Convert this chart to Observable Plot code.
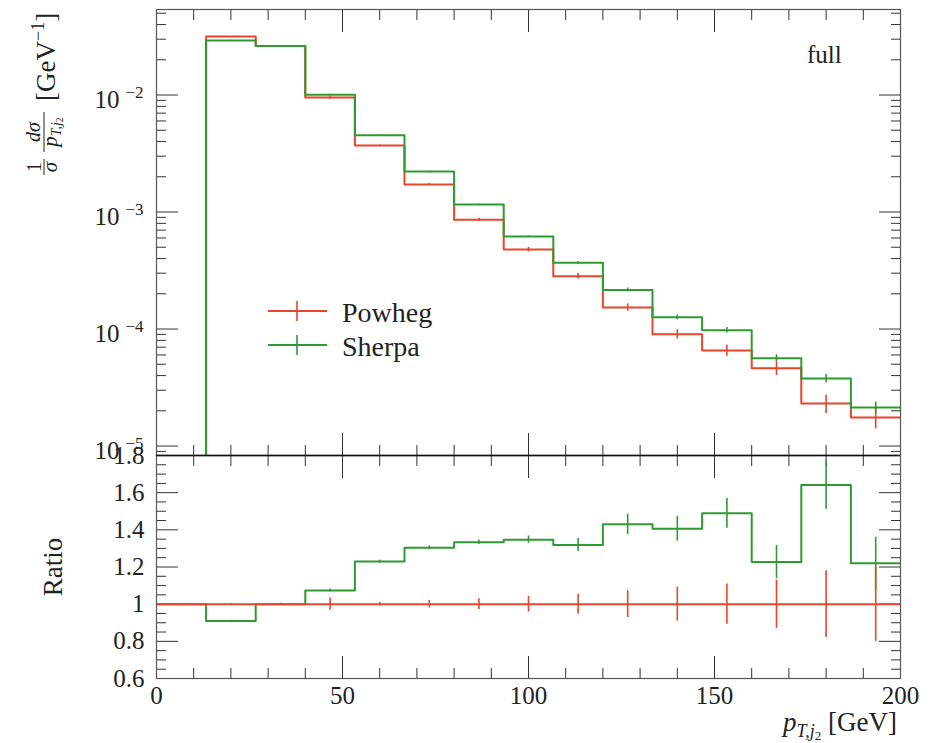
<!DOCTYPE html>
<html>
<head>
<meta charset="utf-8">
<script src="https://cdn.jsdelivr.net/npm/d3@7"></script>
<script src="https://cdn.jsdelivr.net/npm/@observablehq/plot@0.6"></script>
<style>
  body { margin: 0; background: #fff; }
  #wrap { position: relative; width: 930px; height: 743px; overflow: hidden; background: #fff; }
  #wrap svg, #wrap svg text { font-family: "Liberation Serif", "DejaVu Serif", serif !important; }
  #overlay { position: absolute; left: 0; top: 0; pointer-events: none; }
</style>
</head>
<body>
<div id="wrap"></div>
<script>
// ---------------- data ----------------
const binEdges = [0, 13.333, 26.667, 40, 53.333, 66.667, 80, 93.333, 106.667, 120, 133.333, 146.667, 160, 173.333, 186.667, 200];
const powheg = [0, 3.16e-2, 2.62e-2, 9.5e-3, 3.7e-3, 1.72e-3, 8.6e-4, 4.78e-4, 2.83e-4, 1.53e-4, 9.04e-5, 6.55e-5, 4.62e-5, 2.31e-5, 1.75e-5];
const sherpa = [0, 2.92e-2, 2.62e-2, 1.007e-2, 4.53e-3, 2.22e-3, 1.16e-3, 6.18e-4, 3.68e-4, 2.16e-4, 1.26e-4, 9.77e-5, 5.62e-5, 3.78e-5, 2.13e-5];
const ratioPowheg = [1, 1, 1, 1, 1, 1, 1, 1, 1, 1, 1, 1, 1, 1, 1];
const ratioSherpa = [1, 0.91, 1.0, 1.073, 1.229, 1.304, 1.333, 1.347, 1.319, 1.430, 1.406, 1.489, 1.227, 1.641, 1.220];
// error half-widths, in ratio units
const errPowheg = [0, 0.003, 0.004, 0.033, 0.01, 0.02, 0.029, 0.042, 0.054, 0.072, 0.091, 0.108, 0.13, 0.18, 0.2];
const errSherpa = [0, 0.004, 0.005, 0.008, 0.008, 0.01, 0.012, 0.02, 0.035, 0.055, 0.067, 0.08, 0.089, 0.13, 0.14];
const seriesNames = ["Powheg", "Sherpa"];
const xMajorTicks = [0, 50, 100, 150, 200];
const xMinorTicks = [10, 20, 30, 40, 60, 70, 80, 90, 110, 120, 130, 140, 160, 170, 180, 190];
const logMajorTicks = [1e-5, 1e-4, 1e-3, 1e-2];
const ratioMajorTicks = [0.6, 0.8, 1, 1.2, 1.4, 1.6, 1.8];

// ---------------- styling ----------------
const RED = "#e8452c";
const GREEN = "#2f9933";
const FRAME = "#555";
const FONT = "Liberation Serif, DejaVu Serif, serif";

// ---------------- helpers ----------------
function steps(vals, floor) {
  const pts = [];
  vals.forEach((v, i) => {
    const y = v > 0 ? v : floor;
    pts.push({x: binEdges[i], y}, {x: binEdges[i + 1], y});
  });
  return pts;
}
const mids = binEdges.slice(0, -1).map((e, i) => (e + binEdges[i + 1]) / 2);

function errRows(vals, rel) {
  return vals.map((v, i) => ({x: mids[i], y1: v - rel[i], y2: v + rel[i], e: rel[i]})).filter(d => d.e > 0);
}
function errRowsLog(vals, absErr, ratio) {
  return vals.map((v, i) => {
    const r = ratio[i] > 0 ? absErr[i] / ratio[i] : 0;
    return {x: mids[i], y1: v * (1 - r), y2: v * (1 + r), e: r};
  }).filter(d => d.e > 0 && d.y1 > 0);
}

function tickMarks(axis, values, size, anchors) {
  const f = axis === "x" ? Plot.axisX : Plot.axisY;
  return anchors.map(a => f({anchor: a, ticks: values, tickSize: -size, fill: "none", stroke: "#333", strokeWidth: 1, label: null}));
}

const sup = {"0": "\u2070", "1": "\u00B9", "2": "\u00B2", "3": "\u00B3", "4": "\u2074", "5": "\u2075", "6": "\u2076"};
const unsup = Object.fromEntries(Object.entries(sup).map(([k, v]) => [v, k]));
const logFmt = d => "10\u207B" + sup[String(-Math.round(Math.log10(d)))];

// log minor ticks
const yDomTop = [8.3e-6, 5.38e-2];
const logMinorTicks = [];
for (let e = -6; e <= -2; e++) for (let k = 2; k <= 9; k++) {
  const v = k * Math.pow(10, e);
  if (v > yDomTop[0] && v < yDomTop[1]) logMinorTicks.push(v);
}
const ratioMinorTicks = [];
for (let v = 0.65; v < 1.8; v += 0.05) {
  const r = Math.round(v * 100) / 100;
  if (Math.abs(r * 5 - Math.round(r * 5)) > 1e-6) ratioMinorTicks.push(r);
}

// ---------------- top panel ----------------
const topPlot = Plot.plot({
  width: 930, height: 456,
  marginTop: 9, marginBottom: 1, marginLeft: 156, marginRight: 30,
  style: {fontFamily: FONT, fontSize: "24px", color: "#222", background: "transparent", overflow: "visible", position: "absolute", left: "0px", top: "0px"},
  x: {domain: [0, 200], axis: null},
  y: {type: "log", domain: yDomTop, axis: null},
  marks: [
    ...tickMarks("x", xMajorTicks, 22, ["top", "bottom"]),
    ...tickMarks("x", xMinorTicks, 10, ["top", "bottom"]),
    ...tickMarks("y", logMajorTicks, 22, ["left", "right"]),
    ...tickMarks("y", logMinorTicks, 10, ["left", "right"]),
    Plot.line(steps(powheg, 1e-9), {x: "x", y: "y", stroke: RED, strokeWidth: 2, clip: true}),
    Plot.ruleX(errRowsLog(powheg, errPowheg, ratioPowheg), {x: "x", y1: "y1", y2: "y2", stroke: RED, strokeWidth: 1.6, clip: true}),
    Plot.line(steps(sherpa, 1e-9), {x: "x", y: "y", stroke: GREEN, strokeWidth: 2, clip: true}),
    Plot.ruleX(errRowsLog(sherpa, errSherpa, ratioSherpa), {x: "x", y1: "y1", y2: "y2", stroke: GREEN, strokeWidth: 1.6, clip: true}),
    Plot.frame({stroke: FRAME, strokeWidth: 1.2}),
    Plot.axisY({anchor: "left", ticks: logMajorTicks, tickSize: 0, tickPadding: 13, tickFormat: logFmt, label: null, fontSize: 24, dy: 5, fill: "#222"})
  ]
});

// ---------------- ratio panel ----------------
const botPlot = Plot.plot({
  width: 930, height: 298,
  marginTop: 10, marginBottom: 65, marginLeft: 156, marginRight: 30,
  style: {fontFamily: FONT, fontSize: "24px", color: "#222", background: "transparent", overflow: "visible", position: "absolute", left: "0px", top: "445px"},
  x: {domain: [0, 200], axis: null},
  y: {domain: [0.6, 1.8], axis: null},
  marks: [
    ...tickMarks("x", xMajorTicks, 22, ["top", "bottom"]),
    ...tickMarks("x", xMinorTicks, 10, ["top", "bottom"]),
    ...tickMarks("y", ratioMajorTicks, 22, ["left", "right"]),
    ...tickMarks("y", ratioMinorTicks, 10, ["left", "right"]),
    Plot.line(steps(ratioSherpa, 1), {x: "x", y: "y", stroke: GREEN, strokeWidth: 2, clip: true}),
    Plot.ruleX(errRows(ratioSherpa, errSherpa), {x: "x", y1: "y1", y2: "y2", stroke: GREEN, strokeWidth: 1.6, clip: true}),
    Plot.line(steps(ratioPowheg, 1), {x: "x", y: "y", stroke: RED, strokeWidth: 2, clip: true}),
    Plot.ruleX(errRows(ratioPowheg, errPowheg), {x: "x", y1: "y1", y2: "y2", stroke: RED, strokeWidth: 1.6, clip: true}),
    Plot.frame({stroke: FRAME, strokeWidth: 1.2}),
    Plot.ruleY([1.8], {stroke: "#111", strokeWidth: 1.4}),
    Plot.axisY({anchor: "left", ticks: ratioMajorTicks, tickSize: 0, tickPadding: 12, tickFormat: d => String(Math.round(d * 10) / 10), label: null, fontSize: 25, fill: "#222"}),
    Plot.axisX({anchor: "bottom", ticks: xMajorTicks, tickSize: 0, tickPadding: 8, tickFormat: d => String(d), label: null, fontSize: 25, fill: "#222"})
  ]
});

const wrap = document.getElementById("wrap");
wrap.appendChild(topPlot);
wrap.appendChild(botPlot);

// force serif font and size on every axis label text; rebuild log labels with a raised exponent
for (const svg of [topPlot, botPlot]) {
  svg.querySelectorAll("text").forEach(t => {
    t.style.fontFamily = FONT;
    t.style.fontSize = "25px";
  });
}
topPlot.querySelectorAll("text").forEach(t => {
  const s = t.textContent;
  if (s.startsWith("10\u207B")) {
    const exp = s.slice(3).split("").map(c => unsup[c] ?? c).join("");
    t.textContent = "10";
    const ts = document.createElementNS("http://www.w3.org/2000/svg", "tspan");
    ts.setAttribute("dy", "-10");
    ts.setAttribute("dx", "6");
    ts.style.fontSize = "17px";
    ts.textContent = "\u2212" + exp;
    t.appendChild(ts);
  }
});

// ---------------- overlay texts (titles, legend) ----------------
const NS = "http://www.w3.org/2000/svg";
const ov = document.createElementNS(NS, "svg");
ov.setAttribute("id", "overlay");
ov.setAttribute("width", 930);
ov.setAttribute("height", 743);
ov.setAttribute("font-family", FONT);
ov.setAttribute("fill", "#222");
ov.innerHTML = `
  <g transform="translate(54,92) rotate(-90)">
    <text x="-75" y="-13" font-size="20" text-anchor="middle">1</text>
    <line x1="-83" x2="-67" y1="-10" y2="-10" stroke="#222" stroke-width="1"/>
    <text x="-75" y="3" font-size="21" text-anchor="middle" font-style="italic">σ</text>
    <text x="-40" y="-14" font-size="20" text-anchor="middle" font-style="italic">dσ</text>
    <line x1="-60" x2="-20" y1="-10" y2="-10" stroke="#222" stroke-width="1"/>
    <text x="-40" y="3" font-size="21" text-anchor="middle"><tspan font-style="italic">p</tspan><tspan font-size="14" dy="4" font-style="italic">T,j</tspan><tspan font-size="10" dy="2">2</tspan></text>
    <text x="-9" y="1" font-size="27">[GeV<tspan font-size="18" dy="-11">−1</tspan><tspan dy="11">]</tspan></text>
  </g>
  <text transform="translate(62,567) rotate(-90)" font-size="27" text-anchor="middle">Ratio</text>
  <text x="807" y="63" font-size="25">full</text>
  <g>
    <line x1="268" x2="327" y1="311" y2="311" stroke="${RED}" stroke-width="2"/>
    <line x1="297" x2="297" y1="301" y2="321" stroke="${RED}" stroke-width="1.6"/>
    <text x="342" y="322" font-size="28">${seriesNames[0]}</text>
    <line x1="268" x2="327" y1="345" y2="345" stroke="${GREEN}" stroke-width="2"/>
    <line x1="297" x2="297" y1="335" y2="355" stroke="${GREEN}" stroke-width="1.6"/>
    <text x="342" y="356" font-size="28">${seriesNames[1]}</text>
  </g>
  <text x="897" y="731" font-size="27" text-anchor="end"><tspan font-style="italic">p</tspan><tspan font-size="18" dy="6" font-style="italic">T,j</tspan><tspan font-size="13" dy="3">2</tspan><tspan dy="-9"> [GeV]</tspan></text>
`;
wrap.appendChild(ov);
</script>
</body>
</html>
